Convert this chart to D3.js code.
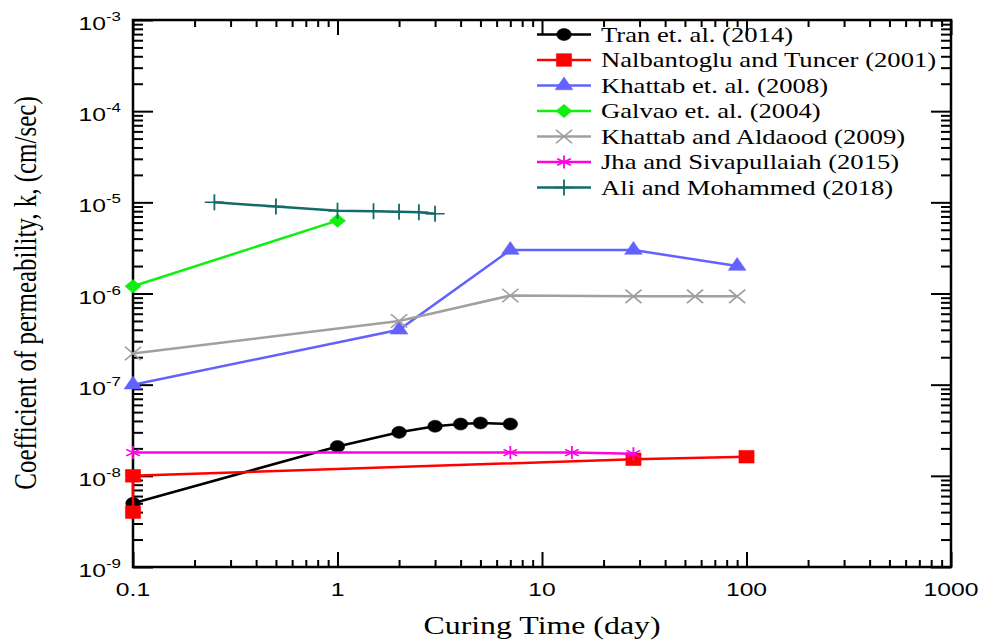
<!DOCTYPE html>
<html>
<head>
<meta charset="utf-8">
<script src="https://cdn.jsdelivr.net/npm/d3@7"></script>
<style>
  body { margin: 0; background: #fff; }
  svg { display: block; }
</style>
</head>
<body>
<svg class="chart"></svg>
<script>
// data (x = curing time in days, y = k in cm/sec)
const tranX = [0.1, 1, 2, 3, 4, 5, 7]
const tranY = [5e-9, 2.1e-8, 3.0e-8, 3.5e-8, 3.7e-8, 3.8e-8, 3.7e-8]

const nalbX = [0.1, 0.1, 28, 100]
const nalbY = [4e-9, 1e-8, 1.52e-8, 1.62e-8]

const khat08X = [0.1, 2, 7, 28, 90]
const khat08Y = [1e-7, 4e-7, 3e-6, 3e-6, 2e-6]

const galvX = [0.1, 1]
const galvY = [1.2e-6, 6.3e-6]

const khat09X = [0.1, 2, 7, 28, 56, 90]
const khat09Y = [2.2e-7, 5e-7, 9.5e-7, 9.3e-7, 9.3e-7, 9.3e-7]

const jhaX = [0.1, 7, 14, 28]
const jhaY = [1.8e-8, 1.8e-8, 1.8e-8, 1.75e-8]

const aliX = [0.25, 0.5, 1, 1.5, 2, 2.5, 3]
const aliY = [1e-5, 9e-6, 8.1e-6, 8e-6, 7.9e-6, 7.8e-6, 7.5e-6]

const seriesNames = [
  "Tran et. al. (2014)",
  "Nalbantoglu and Tuncer (2001)",
  "Khattab et. al. (2008)",
  "Galvao et. al. (2004)",
  "Khattab and Aldaood (2009)",
  "Jha and Sivapullaiah (2015)",
  "Ali and Mohammed (2018)"
]

const xTickValues = [0.1, 1, 10, 100, 1000]
const xTickLabels = ["0.1", "1", "10", "100", "1000"]
const yTickExponents = [-3, -4, -5, -6, -7, -8, -9]

const series = [
  { name: seriesNames[0], xs: tranX, ys: tranY, color: "#000000", marker: "circle" },
  { name: seriesNames[1], xs: nalbX, ys: nalbY, color: "#ff0000", marker: "square" },
  { name: seriesNames[2], xs: khat08X, ys: khat08Y, color: "#6262ff", marker: "triangle" },
  { name: seriesNames[3], xs: galvX, ys: galvY, color: "#11ee11", marker: "diamond" },
  { name: seriesNames[4], xs: khat09X, ys: khat09Y, color: "#a0a0a0", marker: "times" },
  { name: seriesNames[5], xs: jhaX, ys: jhaY, color: "#ff00e0", marker: "asterisk" },
  { name: seriesNames[6], xs: aliX, ys: aliY, color: "#136a6a", marker: "plus" }
]

const width = 981
const height = 640
const stretch = 1.3   // the original figure's text is drawn wide

const serif = "'Liberation Serif', 'Times New Roman', Times, serif"
const sans = "'Liberation Sans', Arial, Helvetica, sans-serif"

const svg = d3.select("svg.chart")
    .attr("width", width)
    .attr("height", height)

const x = d3.scaleLog()
    .domain([0.1, 1000])
    .range([133, 951])

const y = d3.scaleLog()
    .domain([1e-9, 1e-3])
    .range([567, 20])

// minor ticks 2..9 in each decade
const xMinor = []
for (let d = 0.1; d < 1000; d *= 10) {
  for (let k = 2; k <= 9; k++) xMinor.push(d * k)
}
const yMinor = []
for (let e = -9; e < -3; e++) {
  for (let k = 2; k <= 9; k++) yMinor.push(k * Math.pow(10, e))
}
const yMajor = yTickExponents.map(e => Math.pow(10, e))

function drawAxis(axis, tx, ty) {
  const g = svg.append("g")
      .attr("transform", "translate(" + tx + "," + ty + ")")
      .call(axis)
  g.select(".domain").remove()
  g.selectAll(".tick line").attr("stroke", "#000").attr("stroke-width", 2)
  return g
}

// inward ticks on all four sides
drawAxis(d3.axisBottom(x).tickValues(xTickValues).tickSize(-15).tickFormat(""), 0, 567)
drawAxis(d3.axisBottom(x).tickValues(xMinor).tickSize(-7).tickFormat(""), 0, 567)
drawAxis(d3.axisTop(x).tickValues(xTickValues).tickSize(-15).tickFormat(""), 0, 20)
drawAxis(d3.axisTop(x).tickValues(xMinor).tickSize(-7).tickFormat(""), 0, 20)
drawAxis(d3.axisLeft(y).tickValues(yMajor).tickSize(-20).tickFormat(""), 133, 0)
drawAxis(d3.axisLeft(y).tickValues(yMinor).tickSize(-10).tickFormat(""), 133, 0)
drawAxis(d3.axisRight(y).tickValues(yMajor).tickSize(-20).tickFormat(""), 951, 0)
drawAxis(d3.axisRight(y).tickValues(yMinor).tickSize(-10).tickFormat(""), 951, 0)

svg.append("rect")
    .attr("x", 133)
    .attr("y", 20)
    .attr("width", 951 - 133)
    .attr("height", 567 - 20)
    .attr("fill", "none")
    .attr("stroke", "#000")
    .attr("stroke-width", 2.5)

// x tick labels
svg.append("g")
    .selectAll("text")
    .data(xTickValues)
    .enter()
    .append("text")
    .attr("transform", d => "translate(" + x(d) + ",596) scale(" + stretch + ",1)")
    .attr("text-anchor", "middle")
    .style("font-family", sans)
    .style("font-size", "19px")
    .text((d, i) => xTickLabels[i])

// y tick labels 10^n
const yLab = svg.append("g")
    .selectAll("text")
    .data(yTickExponents)
    .enter()
    .append("text")
    .attr("transform", d => "translate(121," + (y(Math.pow(10, d)) + 10) + ") scale(" + stretch + ",1)")
    .attr("text-anchor", "end")
    .style("font-family", sans)
    .style("font-size", "19px")
yLab.append("tspan").text("10")
yLab.append("tspan")
    .attr("dy", -9)
    .style("font-size", "13px")
    .text(d => String(d))

// axis titles
svg.append("text")
    .attr("transform", "translate(542,634) scale(" + stretch + ",1)")
    .attr("text-anchor", "middle")
    .style("font-family", serif)
    .style("font-size", "24.5px")
    .text("Curing Time (day)")

svg.append("text")
    .attr("transform", "translate(36,293) scale(" + stretch + ",1) rotate(-90)")
    .attr("text-anchor", "middle")
    .style("font-family", serif)
    .style("font-size", "25px")
    .text("Coefficient of permeability, k, (cm/sec)")

// markers
const symbolOf = {
  circle: { type: d3.symbolCircle, size: 115, fill: true },
  square: { type: d3.symbolSquare, size: 160, fill: true },
  triangle: { type: d3.symbolTriangle, size: 95, fill: true },
  diamond: { type: d3.symbolDiamond2, size: 115, fill: true },
  times: { type: d3.symbolTimes, size: 120, fill: false },
  asterisk: { type: d3.symbolAsterisk, size: 120, fill: false },
  plus: { type: d3.symbolPlus, size: 85, fill: false }
}

function addMarker(sel, s) {
  const m = symbolOf[s.marker]
  sel.attr("d", d3.symbol().type(m.type).size(m.size))
      .attr("fill", m.fill ? s.color : "none")
      .attr("stroke", s.color)
      .attr("stroke-width", m.fill ? 0.5 : 1.5)
}

const line = d3.line()
    .x(d => x(d[0]))
    .y(d => y(d[1]))

series.forEach(s => {
  const pts = s.xs.map((v, i) => [v, s.ys[i]])
  svg.append("path")
      .datum(pts)
      .attr("d", line)
      .attr("fill", "none")
      .attr("stroke", s.color)
      .attr("stroke-width", 2.5)
  svg.append("g")
      .selectAll("path")
      .data(pts)
      .enter()
      .append("path")
      .attr("transform", d => "translate(" + x(d[0]) + "," + y(d[1]) + ") scale(1.2,1)")
      .call(addMarker, s)
})

// legend
const legend = svg.append("g")
series.forEach((s, i) => {
  const ly = 34.5 + i * 25.5
  legend.append("line")
      .attr("x1", 537).attr("x2", 591)
      .attr("y1", ly).attr("y2", ly)
      .attr("stroke", s.color)
      .attr("stroke-width", 2.5)
  legend.append("path")
      .attr("transform", "translate(564," + ly + ") scale(1.2,1)")
      .call(addMarker, s)
  legend.append("text")
      .attr("transform", "translate(601," + (ly + 7) + ") scale(" + stretch + ",1)")
      .style("font-family", serif)
      .style("font-size", "20.5px")
      .text(s.name)
})
</script>
</body>
</html>
